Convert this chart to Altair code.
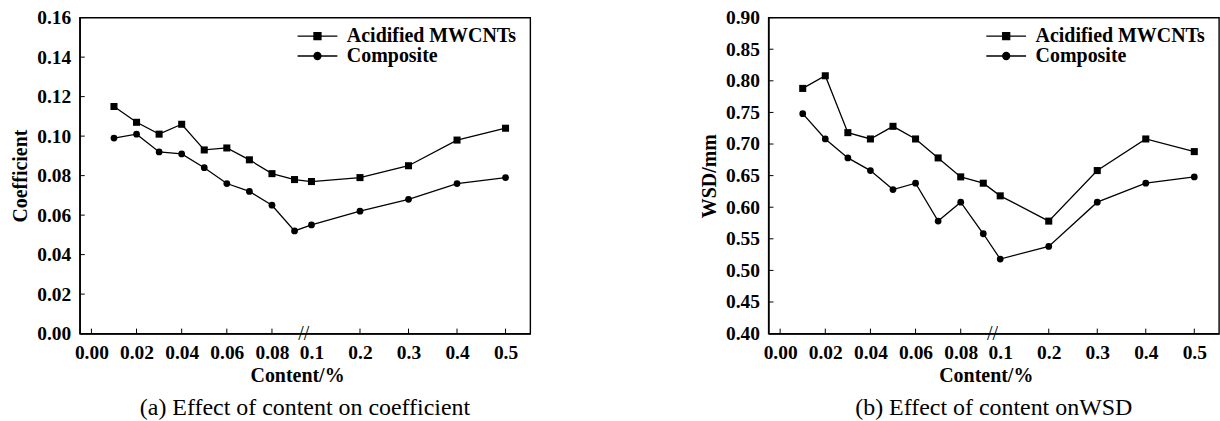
import altair as alt
import pandas as pd

# ---------------- data ----------------
content = [0.01, 0.02, 0.03, 0.04, 0.05, 0.06, 0.07, 0.08, 0.09, 0.1, 0.2, 0.3, 0.4, 0.5]
series = ["Acidified MWCNTs", "Composite"]

coef_acid = [0.115, 0.107, 0.101, 0.106, 0.093, 0.094, 0.088, 0.081, 0.078, 0.077, 0.079, 0.085, 0.098, 0.104]
coef_comp = [0.099, 0.101, 0.092, 0.091, 0.084, 0.076, 0.072, 0.065, 0.052, 0.055, 0.062, 0.068, 0.076, 0.079]

wsd_acid = [0.788, 0.808, 0.718, 0.708, 0.728, 0.708, 0.678, 0.648, 0.638, 0.618, 0.578, 0.658, 0.708, 0.688]
wsd_comp = [0.748, 0.708, 0.678, 0.658, 0.628, 0.638, 0.578, 0.608, 0.558, 0.518, 0.538, 0.608, 0.638, 0.648]

x_tick_values = [0.0, 0.02, 0.04, 0.06, 0.08, 0.1, 0.2, 0.3, 0.4, 0.5]
x_tick_marks = [0.0, 0.02, 0.04, 0.06, 0.08, 0.2, 0.3, 0.4, 0.5]
coef_ticks = [0.0, 0.02, 0.04, 0.06, 0.08, 0.10, 0.12, 0.14, 0.16]
wsd_ticks = [0.40, 0.45, 0.50, 0.55, 0.60, 0.65, 0.70, 0.75, 0.80, 0.85, 0.90]
break_at = [0.0955]

# ---------------- layout / style ----------------
W, H = 452, 317
SERIF = "Liberation Serif"
FS_LAB = 19.5
FS_TTL = 20
# broken x axis: piecewise-linear scale (0-0.09 fine section, 0.1-0.5 coarse section)
x_domain = [-0.00517, 0.09, 0.1, 0.5, 0.5509]
x_range = [0, 215.5, 232.5, 427.2, W]

SQUARE_SYM = "M-5.7,0H5.7M-1,-1H1V1H-1Z"
CIRCLE_SYM = "M-5.7,0H5.7M1,0A1,1,0,1,1,-1,0A1,1,0,1,1,1,0Z"


def panel(acid, comp, ydom, yticks, ytitle, caption):
    df = pd.DataFrame({
        "x": content * 2,
        "y": acid + comp,
        "series": [series[0]] * len(content) + [series[1]] * len(content),
    })
    xscale = alt.Scale(domain=x_domain, range=x_range, nice=False, zero=False)
    yscale = alt.Scale(domain=ydom, nice=False, zero=False)

    xaxis = alt.Axis(
        values=x_tick_values,
        labelExpr="datum.value < 0.095 ? format(datum.value, '.2f') : format(datum.value, '.1f')",
        ticks=False, grid=False, title="Content/%",
        labelFont=SERIF, labelFontSize=FS_LAB, labelFontWeight="bold", labelColor="black",
        labelPadding=10, labelFlush=False, labelOverlap=False,
        titleFont=SERIF, titleFontSize=FS_TTL, titleFontWeight="bold", titleColor="black",
        titlePadding=4, titleX=218, domainColor="black", domainWidth=1.4,
    )
    yaxis = alt.Axis(
        values=yticks, format=".2f", ticks=False, grid=False, title=ytitle,
        labelFont=SERIF, labelFontSize=FS_LAB, labelFontWeight="bold", labelColor="black",
        labelPadding=9, labelFlush=False, labelOverlap=False,
        titleFont=SERIF, titleFontSize=FS_TTL, titleFontWeight="bold", titleColor="black",
        titlePadding=6, domainColor="black", domainWidth=1.4,
    )
    X = alt.X("x:Q", scale=xscale, axis=xaxis)
    Y = alt.Y("y:Q", scale=yscale, axis=yaxis)

    base = alt.Chart(df)
    lines = base.mark_line(color="black", strokeWidth=1.3).encode(
        x=X, y=Y, detail="series:N",
    )
    sq = base.transform_filter(alt.datum.series == series[0]).mark_point(
        shape="square", filled=True, color="black", size=50, opacity=1
    ).encode(x=X, y=Y)
    ci = base.transform_filter(alt.datum.series == series[1]).mark_point(
        shape="circle", filled=True, color="black", size=46, opacity=1
    ).encode(x=X, y=Y)

    legend_layer = base.mark_point(
        filled=False, fill="black", color="black", strokeWidth=1.3, opacity=0
    ).encode(
        x=X, y=Y,
        shape=alt.Shape(
            "series:N",
            scale=alt.Scale(domain=series, range=[SQUARE_SYM, CIRCLE_SYM]),
            legend=alt.Legend(
                title=None, orient="none", legendX=228.5, legendY=8.5, padding=0,
                symbolSize=49, symbolOpacity=1, symbolStrokeWidth=1.3,
                labelFont=SERIF, labelFontSize=FS_TTL, labelFontWeight="bold",
                labelColor="black", labelOffset=19.5, rowPadding=0, labelLimit=400,
            ),
        ),
    )

    xt = pd.DataFrame({"x": x_tick_marks})
    xticks = alt.Chart(xt).mark_rule(color="black", strokeWidth=1).encode(
        x=X, y=alt.value(H), y2=alt.value(H - 5),
    )
    yt = pd.DataFrame({"y": yticks})
    ytick_marks = alt.Chart(yt).mark_rule(color="black", strokeWidth=1).encode(
        y=Y, x=alt.value(0), x2=alt.value(5),
    )
    br = pd.DataFrame({"x": break_at})
    brk = alt.Chart(br).mark_text(
        text="//", font=SERIF, fontSize=20, color="black", baseline="middle", align="center"
    ).encode(x=X, y=alt.value(H))

    return alt.layer(lines, sq, ci, legend_layer, xticks, ytick_marks, brk).properties(
        width=W, height=H,
        title=alt.TitleParams(
            caption, orient="bottom", anchor="middle", frame="group", font=SERIF,
            fontSize=24, fontWeight="normal", color="black", offset=10,
        ),
    )


left = panel(coef_acid, coef_comp, [0, 0.16], coef_ticks, "Coefficient",
             "(a) Effect of content on coefficient")
right = panel(wsd_acid, wsd_comp, [0.40, 0.90], wsd_ticks, "WSD/mm",
              "(b) Effect of content onWSD")

chart = alt.hconcat(left, right, spacing=168).resolve_scale(
    shape="independent"
).resolve_legend(shape="independent").properties(
    padding={"left": 10, "top": 6, "right": 0, "bottom": 0},
    background="white",
).configure_view(stroke="black", strokeWidth=1.4)

chart.save("out.html", embed_options={"renderer": "svg", "actions": False})
